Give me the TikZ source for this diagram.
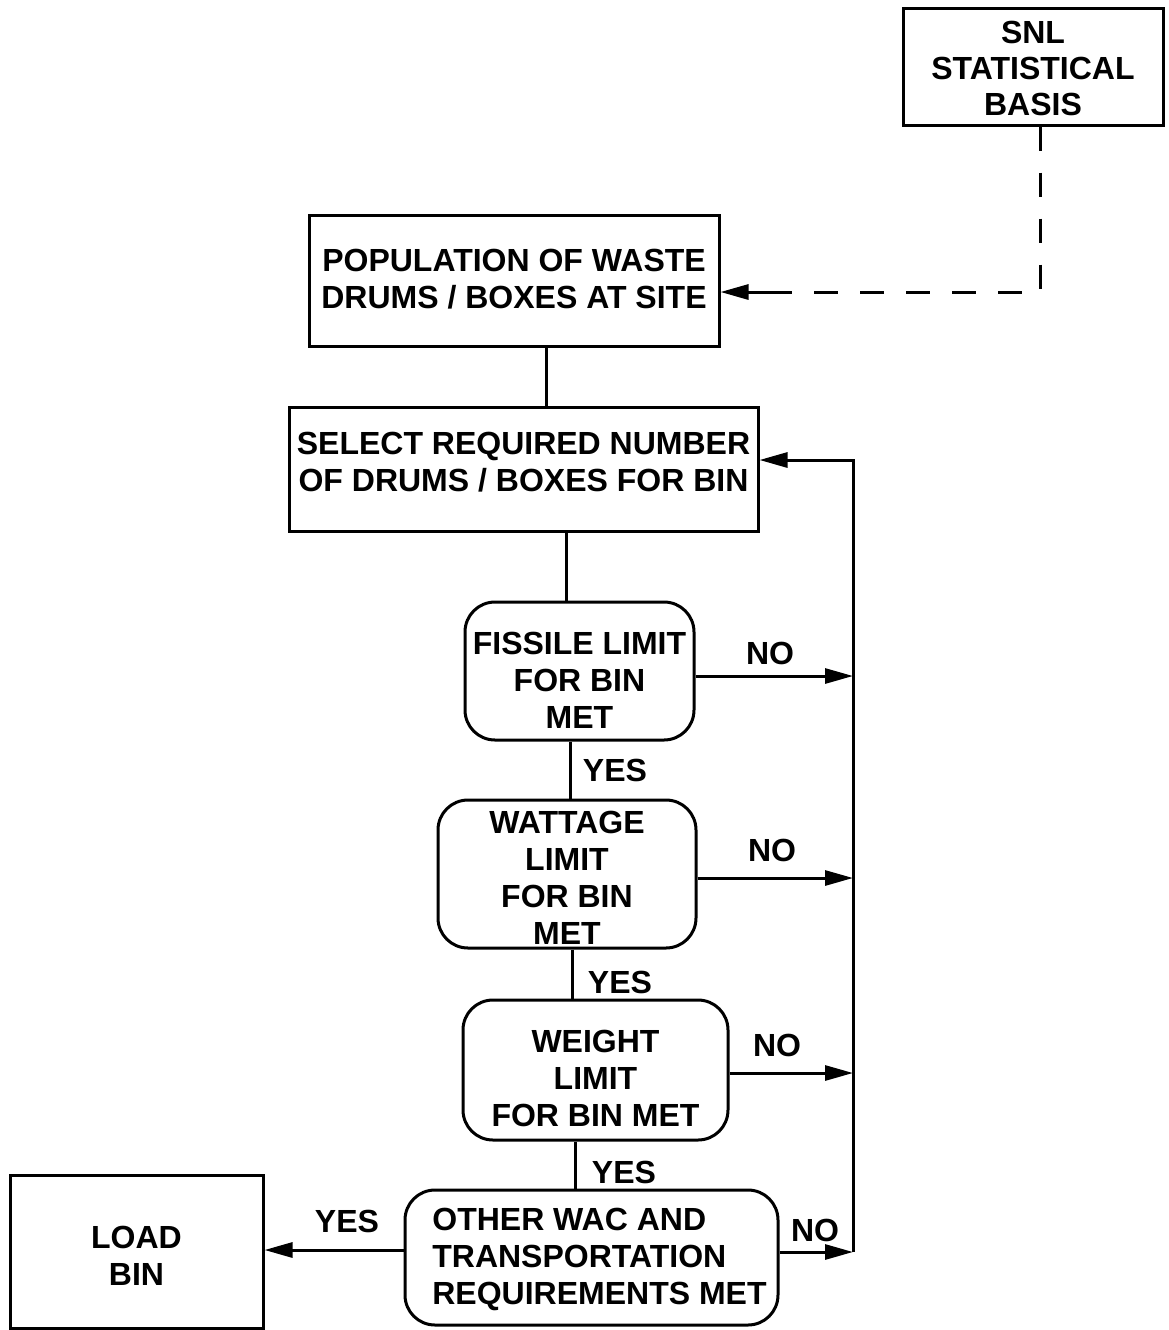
\documentclass[tikz,border=0pt]{standalone}
\usepackage{fontspec}
\setmainfont{Liberation Sans}
\usetikzlibrary{arrows.meta,calc}
\newcommand\boxtxt[3]{\raisebox{#1}[\height][\depth]{\begin{tabular}{@{}#2@{}}#3\end{tabular}}}
\tikzset{
 box/.style={draw, line width=1.5pt, inner sep=0pt, font=\bfseries\fontsize{16}{18.5}\selectfont},
 rbox/.style={box, rounded corners=15pt},
 lbl/.style={font=\bfseries\fontsize{16}{18.5}\selectfont, inner sep=0pt},
 arr/.style={line width=1.5pt, -{Triangle[length=14pt,width=7.5pt]}},
 ln/.style={line width=1.5pt}
}
\begin{document}
\begin{tikzpicture}[x=0.5pt,y=-0.5pt]
\useasboundingbox (0,0) rectangle (1169,1330);
\node[box, minimum width=130pt, minimum height=58.5pt, font=\bfseries\fontsize{16}{18}\selectfont] (snl) at (1033,66.5) {\boxtxt{-3pt}{c}{SNL\\STATISTICAL\\BASIS}};
\node[box, minimum width=205pt, minimum height=65.5pt] (pop) at (514,280.5) {\boxtxt{-1pt}{c}{POPULATION OF WASTE\\DRUMS / BOXES AT SITE}};
\node[box, minimum width=234.5pt, minimum height=62pt] (sel) at (523.5,469) {\boxtxt{1.5pt}{c}{SELECT REQUIRED NUMBER\\OF DRUMS / BOXES FOR BIN}};
\node[rbox, minimum width=114.5pt, minimum height=69pt] (fis) at (579.5,671) {\boxtxt{-6.5pt}{c}{FISSILE LIMIT\\FOR BIN\\MET}};
\node[rbox, minimum width=129pt, minimum height=72pt] (wat) at (567,874) {\boxtxt{-4pt}{c}{WATTAGE\\LIMIT\\FOR BIN\\MET}};
\node[rbox, minimum width=132.5pt, minimum height=70pt] (wei) at (595.5,1070) {\boxtxt{-6pt}{c}{WEIGHT\\LIMIT\\FOR BIN MET}};
\node[rbox, minimum width=186.5pt, minimum height=67.5pt] (oth) at (591.5,1257.5) {\hspace*{8pt}\boxtxt{-1.5pt}{l}{OTHER WAC AND\\TRANSPORTATION\\REQUIREMENTS MET}};
\node[box, minimum width=126.5pt, minimum height=76.5pt] (load) at (136.5,1251.5) {\boxtxt{-4pt}{c}{LOAD\\BIN}};

\coordinate (fbtop) at (853,460);
\coordinate (fbbot) at (853,1252);
\coordinate (dc) at (1040,292);

\draw[ln] ([xshift=16pt]pop.south) -- ([xshift=16pt]pop.south |- sel.north);
\draw[ln] ([xshift=21.25pt]sel.south) -- ([xshift=21.25pt]sel.south |- fis.north);
\draw[ln] ([xshift=-4.75pt]fis.south) -- ([xshift=-4.75pt]fis.south |- wat.north);
\draw[ln] ([xshift=2.5pt]wat.south) -- ([xshift=2.5pt]wat.south |- wei.north);
\draw[ln] ([xshift=-10.25pt]wei.south) -- ([xshift=-10.25pt]wei.south |- oth.north);

\draw[arr] ([yshift=-2.5pt]fis.east) -- ([yshift=-2.5pt]fis.east -| fbtop);
\draw[arr] ([yshift=-2pt]wat.east) -- ([yshift=-2pt]wat.east -| fbtop);
\draw[arr] ([yshift=-1.5pt]wei.east) -- ([yshift=-1.5pt]wei.east -| fbtop);
\draw[arr] ([yshift=2.75pt]oth.east) -- ([yshift=2.75pt]oth.east -| fbtop);
\draw[arr] (fbbot) -- (fbtop) -- (fbtop -| sel.east);
\draw[arr] ([yshift=3.75pt]oth.west) -- ([yshift=3.75pt]oth.west -| load.east);

\draw[ln, dash pattern=on 12pt off 11pt] ([xshift=3.5pt]snl.south) -- (dc) -- ($(dc -| pop.east)+(60,0)$);
\draw[arr] ($(dc -| pop.east)+(60,0)$) -- (dc -| pop.east);

\node[lbl] (no1) at (770,653) {NO};
\node[lbl] (yes1) at (615,770) {YES};
\node[lbl] (no2) at (772,850) {NO};
\node[lbl] (yes2) at (620,982) {YES};
\node[lbl] (no3) at (777,1045) {NO};
\node[lbl] (yes3) at (624,1172) {YES};
\node[lbl] (no4) at (815,1230) {NO};
\node[lbl] (yes4) at (347,1221) {YES};
\end{tikzpicture}
\end{document}
